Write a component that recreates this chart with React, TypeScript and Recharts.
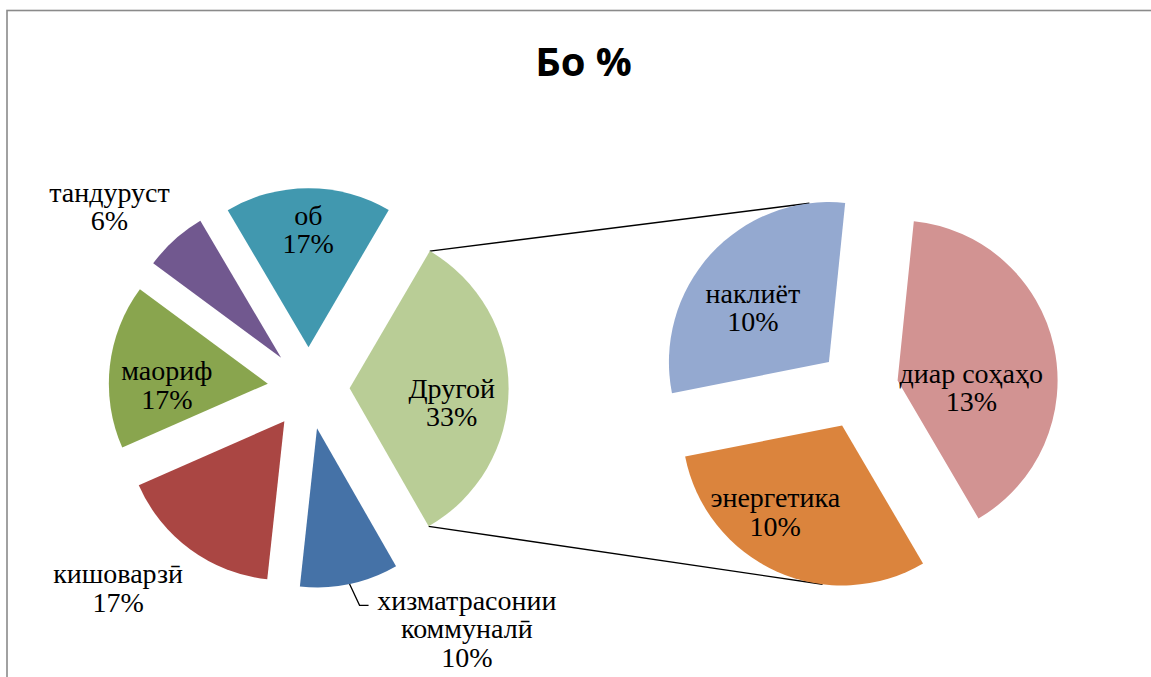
import React from 'react'
import { PieChart, Pie, Cell, Customized } from 'recharts'

// main pie, clockwise from the "Другой" slice
const mainNames = ['Другой', 'хизматрасонии коммуналӣ', 'кишоварзӣ', 'маориф', 'тандуруст', 'об']
const mainValues = [33.3, 10.0, 16.7, 16.7, 6.4, 16.9]
const mainColors = ['#B9CD96', '#4572A7', '#AA4643', '#89A54E', '#71588F', '#4198AF']

// secondary pie (breakdown of "Другой")
const otherNames = ['наклиёт', 'диар соҳаҳо', 'энергетика']
const otherValues = [9.9, 13.3, 10.1]
const otherColors = ['#94A9D0', '#D29392', '#DB843D']

const title = 'Бо %'

const W = 1151
const H = 677
const LEFT = { cx: 308.6, cy: 388.2, r: 159, start: 59.7, explode: 41 }
const RIGHT = { cx: 858.5, cy: 389, r: 160, start: 191.2, explode: 40 }
const CONNECT_ANGLE = 97
const LINE_H = 28.5
const SERIF = "'Liberation Serif', 'Times New Roman', 'DejaVu Serif', serif"
const grandTotal = mainValues.reduce((a, b) => a + b, 0)

// label spot: distance from the exploded slice tip, and angle shift from the mid angle
const mainSpots = [
	{ r: 103, da: -7.4 },
	{ r: 250, da: 25, leader: true },
	{ r: 235, da: -8.8 },
	{ r: 101, da: 6.7 },
	{ r: 229, da: 6.5 },
	{ r: 118, da: 0 },
]
const otherSpots = [
	{ r: 94, da: 6.3 },
	{ r: 74, da: -17.4 },
	{ r: 109, da: -13.6 },
]

const polar = (x: number, y: number, r: number, deg: number) => {
	const rad = (deg * Math.PI) / 180
	return { x: x + r * Math.cos(rad), y: y - r * Math.sin(rad) }
}

const midAngles = (values: number[], start: number) => {
	const total = values.reduce((a, b) => a + b, 0)
	let acc = 0
	return values.map(v => {
		const m = start - ((acc + v / 2) / total) * 360
		acc += v
		return m
	})
}

const mainMids = midAngles(mainValues, LEFT.start)
const otherMids = midAngles(otherValues, RIGHT.start)

const shift = (explode: number, deg: number) => {
	const p = polar(0, 0, explode, deg)
	return `translate(${p.x}, ${p.y})`
}

const wrap = (name: string) => (name.length > 14 ? name.split(' ') : [name])

const makeLabel = (names: string[], spots: any[], explode: number) => (props: any) => {
	const { cx, cy, midAngle, outerRadius, index, value } = props
	const tip = polar(cx, cy, explode, midAngle)
	const spot = spots[index]
	const c = polar(tip.x, tip.y, spot.r, midAngle + spot.da)
	const lines = [...wrap(names[index]), `${Math.round((value / grandTotal) * 100)}%`]
	const y0 = c.y - ((lines.length - 1) * LINE_H) / 2
	let leader = null
	if (spot.leader) {
		const p1 = polar(tip.x, tip.y, outerRadius, midAngle)
		const p2 = polar(tip.x, tip.y, outerRadius + 23, midAngle + 1.7)
		leader = (
			<polyline
				points={`${p1.x},${p1.y} ${p2.x},${p2.y} ${p2.x + 9},${p2.y}`}
				fill='none'
				stroke='#000'
				strokeWidth={1.3}
			/>
		)
	}
	return (
		<g>
			{leader}
			<text
				x={c.x}
				y={y0}
				textAnchor='middle'
				dominantBaseline='central'
				style={{ fontFamily: SERIF, fontSize: 28 }}
				fill='#000'>
				{lines.map((l, i) => (
					<tspan key={i} x={c.x} y={y0 + i * LINE_H} style={{ fontFamily: SERIF }}>
						{l}
					</tspan>
				))}
			</text>
		</g>
	)
}

const Overlay = () => {
	const otherAngle = (mainValues[0] / grandTotal) * 360
	const tipL = polar(LEFT.cx, LEFT.cy, LEFT.explode, mainMids[0])
	const a1 = polar(tipL.x, tipL.y, LEFT.r, LEFT.start)
	const a2 = polar(tipL.x, tipL.y, LEFT.r, LEFT.start - otherAngle)
	const tipTop = polar(RIGHT.cx, RIGHT.cy, RIGHT.explode, otherMids[0])
	const tipBot = polar(RIGHT.cx, RIGHT.cy, RIGHT.explode, otherMids[otherMids.length - 1])
	const b1 = polar(tipTop.x, tipTop.y, RIGHT.r, CONNECT_ANGLE)
	const b2 = polar(tipBot.x, tipBot.y, RIGHT.r, -CONNECT_ANGLE)
	return (
		<g>
			<line x1={a1.x} y1={a1.y} x2={b1.x} y2={b1.y} stroke='#000' strokeWidth={1.4} />
			<line x1={a2.x} y1={a2.y} x2={b2.x} y2={b2.y} stroke='#000' strokeWidth={1.4} />
		</g>
	)
}

const Frame = () => (
	<g>
		<rect x={7} y={10.5} width={W + 20} height={H + 20} fill='#fff' stroke='#8a8a8a' strokeWidth={1.6} />
		<text
			x={583.5}
			y={76}
			textAnchor='middle'
			style={{ fontFamily: "'Open Sans', 'Liberation Sans', sans-serif", fontWeight: 'bold', fontSize: 40 }}
			fill='#000'>
			{title}
		</text>
	</g>
)

const mainData = mainNames.map((name, i) => ({ name, value: mainValues[i] }))
const otherData = otherNames.map((name, i) => ({ name, value: otherValues[i] }))

const App = () => {
	return (
		<div style={{ position: 'absolute', left: 0, top: 0, width: W, height: H, background: '#fff' }}>
			<PieChart width={W} height={H} margin={{ top: 0, right: 0, bottom: 0, left: 0 }}>
				<Customized component={<Frame />} />
				<Pie
					data={mainData}
					dataKey='value'
					nameKey='name'
					cx={LEFT.cx}
					cy={LEFT.cy}
					outerRadius={LEFT.r}
					startAngle={LEFT.start}
					endAngle={LEFT.start - 360}
					stroke='none'
					label={makeLabel(mainNames, mainSpots, LEFT.explode)}
					labelLine={false}
					isAnimationActive={false}>
					{mainData.map((d, i) => (
						<Cell key={d.name} fill={mainColors[i]} transform={shift(LEFT.explode, mainMids[i])} />
					))}
				</Pie>
				<Pie
					data={otherData}
					dataKey='value'
					nameKey='name'
					cx={RIGHT.cx}
					cy={RIGHT.cy}
					outerRadius={RIGHT.r}
					startAngle={RIGHT.start}
					endAngle={RIGHT.start - 360}
					stroke='none'
					label={makeLabel(otherNames, otherSpots, RIGHT.explode)}
					labelLine={false}
					isAnimationActive={false}>
					{otherData.map((d, i) => (
						<Cell key={d.name} fill={otherColors[i]} transform={shift(RIGHT.explode, otherMids[i])} />
					))}
				</Pie>
				<Customized component={<Overlay />} />
			</PieChart>
		</div>
	)
}

export default App
